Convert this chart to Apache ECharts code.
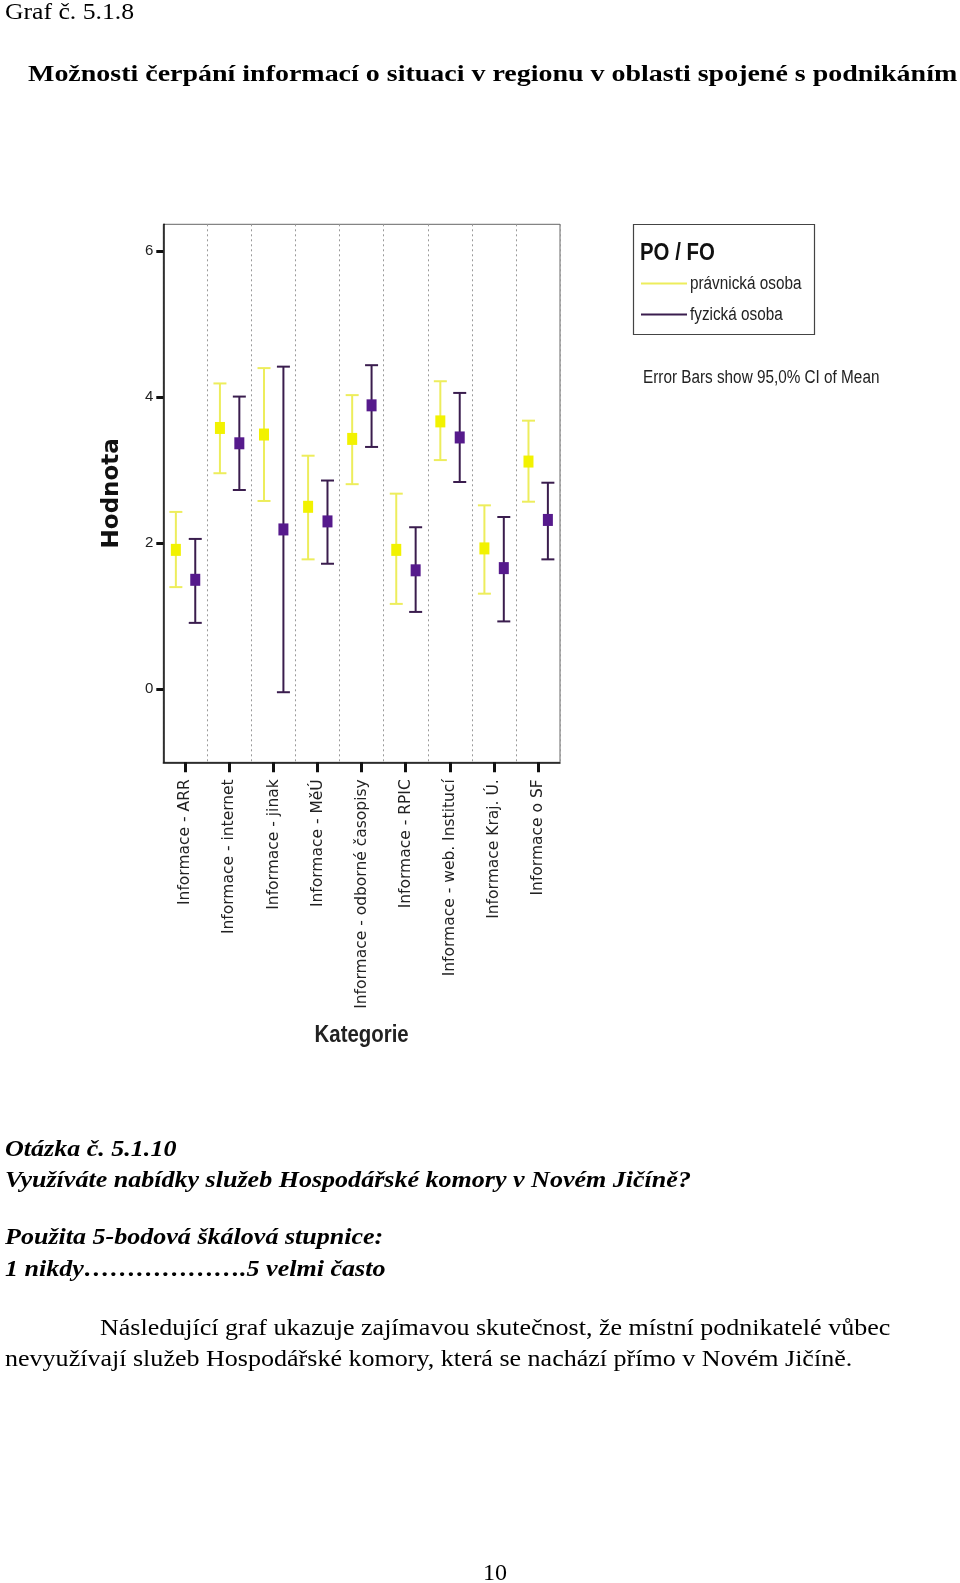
<!DOCTYPE html>
<html><head><meta charset="utf-8">
<script src="https://cdn.jsdelivr.net/npm/echarts@6/dist/echarts.min.js"></script>
<style>html,body{margin:0;padding:0;background:#fff}#c{width:960px;height:1583px}</style>
</head><body><div id="c"></div>
<script>
const categories = ['Informace - ARR','Informace - internet','Informace - jinak','Informace - MěÚ','Informace - odborné časopisy','Informace - RPIC','Informace - web. Institucí','Informace Kraj. Ú.','Informace o SF'];
const seriesNames = ['právnická osoba','fyzická osoba'];
// právnická osoba (PO)
const poMean = [1.91,3.58,3.49,2.50,3.43,1.91,3.67,1.93,3.12];
const poLow  = [1.40,2.96,2.58,1.78,2.81,1.17,3.14,1.31,2.57];
const poHigh = [2.43,4.19,4.40,3.20,4.03,2.68,4.22,2.52,3.68];
// fyzická osoba (FO)
const foMean = [1.50,3.37,2.19,2.30,3.89,1.63,3.45,1.66,2.32];
const foLow  = [0.91,2.73,-0.04,1.72,3.32,1.06,2.84,0.93,1.78];
const foHigh = [2.06,4.01,4.42,2.86,4.44,2.22,4.06,2.36,2.83];
const yTicks = [0,2,4,6];

const chart = echarts.init(document.getElementById('c'), null, {renderer:'canvas'});

function makeRender(offFrac, lineColor, markColor){
  return function(params, api){
    const cat = api.value(0);
    const band = api.size([1,0])[0];
    const pm = api.coord([cat, api.value(1)]);
    const pl = api.coord([cat, api.value(2)]);
    const ph = api.coord([cat, api.value(3)]);
    const x = pm[0] + band*offFrac;
    const cw = 6.5;
    const st = {stroke: lineColor, lineWidth: 2};
    return {type:'group', children:[
      {type:'line', shape:{x1:x,y1:ph[1],x2:x,y2:pl[1]}, style:st},
      {type:'line', shape:{x1:x-cw,y1:ph[1],x2:x+cw,y2:ph[1]}, style:st},
      {type:'line', shape:{x1:x-cw,y1:pl[1],x2:x+cw,y2:pl[1]}, style:st},
      {type:'rect', shape:{x:x-5,y:pm[1]-6,width:10,height:12}, style:{fill:markColor}}
    ]};
  };
}
function rows(m,l,h){ return m.map((v,i)=>[i,v,l[i],h[i]]); }

const serif = 'Liberation Serif';
const sans = 'Liberation Sans';
const txt = (x,y,text,opt,sx)=>({type:'text', x:x, y:y, scaleX:sx||1.085, style:Object.assign({text:text, fill:'#000', fontFamily:serif, fontSize:24, textVerticalAlign:'middle'}, opt||{})});
const ntxt = (x,y,text,opt)=>({type:'text', x:x, y:y, scaleX:0.85, style:Object.assign({text:text, fill:'#222', fontFamily:sans, fontSize:18, textVerticalAlign:'middle'}, opt||{})});

const option = {
  backgroundColor:'#fff',
  animation:false,
  grid:{left:163.3, top:224.3, width:396.7, height:538, show:true, borderColor:'#666', borderWidth:1, containLabel:false},
  xAxis:{type:'category', data:categories, boundaryGap:true,
    axisLine:{show:true, onZero:false, lineStyle:{color:'#111', width:1.5}},
    axisTick:{show:true, alignWithLabel:true, length:10, lineStyle:{color:'#111', width:3}},
    axisLabel:{rotate:90, interval:0, margin:17, fontFamily:'DejaVu Sans', fontSize:15.5, color:'#222'},
    splitLine:{show:true, lineStyle:{color:'#999', type:[2,3], width:1}}
  },
  yAxis:{type:'value', min:-1, max:6.37,
    axisLine:{show:true, lineStyle:{color:'#111', width:1.5}},
    axisTick:{show:true, length:7, customValues:yTicks, lineStyle:{color:'#111', width:3}},
    axisLabel:{customValues:yTicks, margin:10, fontFamily:sans, fontSize:15, color:'#222'},
    splitLine:{show:false},
    name:'Hodnota', nameLocation:'middle', nameRotate:90, nameGap:40,
    nameTextStyle:{fontFamily:'DejaVu Sans', fontWeight:'bold', fontSize:23, color:'#111'}
  },
  series:[
    {type:'custom', name:seriesNames[0], data:rows(poMean,poLow,poHigh), encode:{x:0,y:[1,2,3]},
     renderItem:makeRender(-0.215,'#eded5c','#f2f200'), z:3},
    {type:'custom', name:seriesNames[1], data:rows(foMean,foLow,foHigh), encode:{x:0,y:[1,2,3]},
     renderItem:makeRender(0.225,'#3a1d4e','#561a8c'), z:4}
  ],
  graphic:[
    txt(5,13,'Graf č. 5.1.8',{},1.07),
    txt(28,75,'Možnosti čerpání informací o situaci v regionu v oblasti spojené s podnikáním',{fontWeight:'bold'},1.165),
    ntxt(361.6,1035,'Kategorie',{fontSize:24, fontWeight:'bold', textAlign:'center'}),
    // legend
    {type:'rect', shape:{x:633.5,y:224.5,width:181,height:110}, style:{fill:'#fff', stroke:'#444', lineWidth:1.2}},
    ntxt(640,253,'PO / FO',{fontWeight:'bold', fontSize:24, fill:'#111'}),
    {type:'line', shape:{x1:641,y1:283.5,x2:687,y2:283.5}, style:{stroke:'#eded5c', lineWidth:2}},
    {type:'line', shape:{x1:641,y1:314.5,x2:687,y2:314.5}, style:{stroke:'#3a1d4e', lineWidth:2}},
    ntxt(690,284,seriesNames[0]),
    ntxt(690,315,seriesNames[1]),
    ntxt(643,378,'Error Bars show 95,0% CI of Mean'),
    // page text
    txt(5,1150,'Otázka č. 5.1.10',{fontStyle:'italic', fontWeight:'bold'}),
    txt(5,1181,'Využíváte nabídky služeb Hospodářské komory v Novém Jičíně?',{fontStyle:'italic', fontWeight:'bold'}),
    txt(5,1238,'Použita 5-bodová škálová stupnice:',{fontStyle:'italic', fontWeight:'bold'}),
    txt(5,1270,'1 nikdy……………….5 velmi často',{fontStyle:'italic', fontWeight:'bold'}),
    txt(100,1329,'Následující graf ukazuje zajímavou skutečnost, že místní podnikatelé vůbec'),
    txt(5,1360,'nevyužívají služeb Hospodářské komory, která se nachází přímo v Novém Jičíně.'),
    txt(495,1574,'10',{textAlign:'center'},1)
  ]
};
chart.setOption(option);
</script>
</body></html>
